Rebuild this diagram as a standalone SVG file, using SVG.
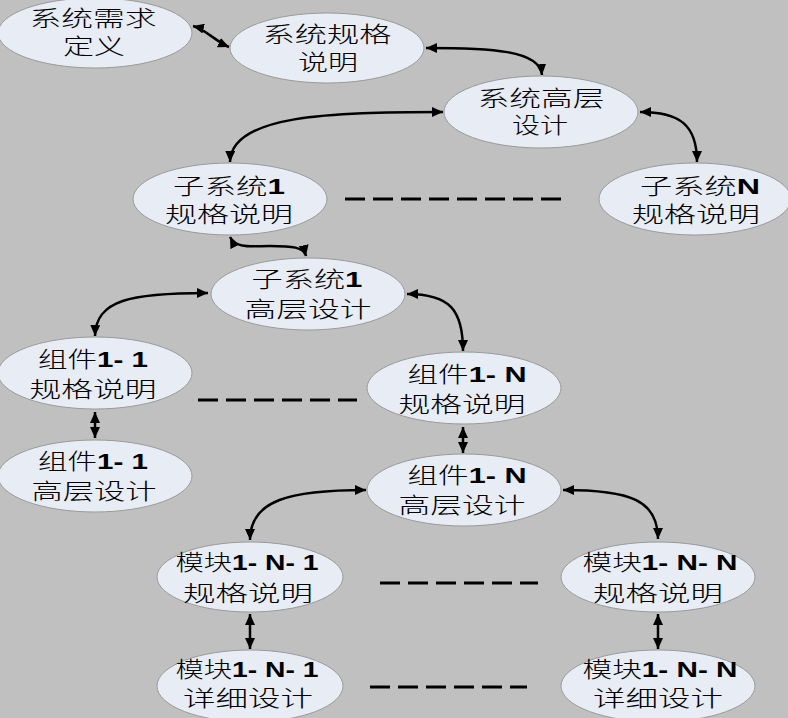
<svg xmlns="http://www.w3.org/2000/svg" width="788" height="718" viewBox="0 0 788 718">
<style>
.bg{fill:#c0c0c0}
.node ellipse{fill:#e8ecf5;stroke:#9a9a9a;stroke-width:1}
.node text{font-family:"Noto Sans CJK SC","Liberation Sans",sans-serif;font-size:22px;font-weight:300;fill:#000;text-anchor:middle}
.node text .b{font-family:"Liberation Sans","Noto Sans CJK SC",sans-serif;font-weight:bold}
.conn path{fill:none;stroke:#000;stroke-width:2.5}
.conn path.arr{marker-start:url(#ah);marker-end:url(#ah)}
.dash line{stroke:#000;stroke-width:3;stroke-dasharray:20 8}
</style>
<defs>
<marker id="ah" markerUnits="userSpaceOnUse" markerWidth="12" markerHeight="10" refX="11" refY="5" orient="auto-start-reverse">
<path d="M0,0 L11,5 L0,10 z" fill="#000"/>
</marker>
</defs>
<rect class="bg" x="0" y="0" width="788" height="718"/>

<g id="connectors" class="conn">
<path class="arr" d="M193,26 C205,29 215,41 229,47"/>
<path class="arr" d="M426,48 C490,48 540,50 542,75"/>
<path class="arr" d="M443,112 C330,112 231,115 230,162"/>
<path class="arr" d="M640,112 C680,112 697,125 697,162"/>
<path class="arr" d="M230,237 C236,249 252,246 270,246 C292,246 304,247 306,256"/>
<path class="arr" d="M208,293 C130,293 96,300 95,336"/>
<path class="arr" d="M407,294 C450,294 463,310 463,351"/>
<path class="arr" d="M95,412 L95,438"/>
<path class="arr" d="M463,427 L463,453"/>
<path class="arr" d="M366,490 C290,490 250,500 250,540"/>
<path class="arr" d="M563,490 C630,490 658,500 658,539"/>
<path class="arr" d="M250,614 L250,649"/>
<path class="arr" d="M658,614 L658,649"/>
</g>

<g id="dashes" class="dash">
<line x1="345" y1="199" x2="563" y2="199"/>
<line x1="198" y1="400" x2="357" y2="400"/>
<line x1="380" y1="583" x2="538" y2="583"/>
<line x1="370" y1="687" x2="527" y2="687"/>
</g>

<g id="n1" class="node"><ellipse cx="95" cy="33" rx="97" ry="35"/>
<text x="93" y="26" textLength="127" lengthAdjust="spacingAndGlyphs">系统需求</text>
<text x="94" y="54" textLength="62" lengthAdjust="spacingAndGlyphs">定义</text></g>

<g id="n2" class="node"><ellipse cx="327" cy="48" rx="97" ry="35"/>
<text x="327" y="42" textLength="129" lengthAdjust="spacingAndGlyphs">系统规格</text>
<text x="328" y="70" textLength="60" lengthAdjust="spacingAndGlyphs">说明</text></g>

<g id="n3" class="node"><ellipse cx="541" cy="112" rx="97" ry="36"/>
<text x="541" y="106" textLength="127" lengthAdjust="spacingAndGlyphs">系统高层</text>
<text x="540" y="133" textLength="56" lengthAdjust="spacingAndGlyphs">设计</text></g>

<g id="n4" class="node"><ellipse cx="230" cy="199" rx="97" ry="36"/>
<text x="229" y="194" textLength="112" lengthAdjust="spacingAndGlyphs">子系统<tspan class="b">1</tspan></text>
<text x="229" y="222" textLength="128" lengthAdjust="spacingAndGlyphs">规格说明</text></g>

<g id="n5" class="node"><ellipse cx="695" cy="199" rx="96" ry="36"/>
<text x="700" y="194" textLength="120" lengthAdjust="spacingAndGlyphs">子系统<tspan class="b">N</tspan></text>
<text x="696" y="222" textLength="128" lengthAdjust="spacingAndGlyphs">规格说明</text></g>

<g id="n6" class="node"><ellipse cx="308" cy="294" rx="97" ry="36"/>
<text x="307" y="287" textLength="111" lengthAdjust="spacingAndGlyphs">子系统<tspan class="b">1</tspan></text>
<text x="308" y="317" textLength="127" lengthAdjust="spacingAndGlyphs">高层设计</text></g>

<g id="n7" class="node"><ellipse cx="95" cy="373" rx="97" ry="36"/>
<text x="93" y="367" textLength="110" lengthAdjust="spacingAndGlyphs">组件<tspan class="b">1- 1</tspan></text>
<text x="93" y="397" textLength="127" lengthAdjust="spacingAndGlyphs">规格说明</text></g>

<g id="n8" class="node"><ellipse cx="95" cy="476" rx="97" ry="36"/>
<text x="93" y="469" textLength="110" lengthAdjust="spacingAndGlyphs">组件<tspan class="b">1- 1</tspan></text>
<text x="94" y="499" textLength="125" lengthAdjust="spacingAndGlyphs">高层设计</text></g>

<g id="n9" class="node"><ellipse cx="464" cy="388" rx="97" ry="36"/>
<text x="467" y="382" textLength="119" lengthAdjust="spacingAndGlyphs">组件<tspan class="b">1- N</tspan></text>
<text x="462" y="412" textLength="127" lengthAdjust="spacingAndGlyphs">规格说明</text></g>

<g id="n10" class="node"><ellipse cx="464" cy="490" rx="97" ry="36"/>
<text x="467" y="483" textLength="119" lengthAdjust="spacingAndGlyphs">组件<tspan class="b">1- N</tspan></text>
<text x="462" y="513" textLength="127" lengthAdjust="spacingAndGlyphs">高层设计</text></g>

<g id="n11" class="node"><ellipse cx="250" cy="577" rx="93" ry="35"/>
<text x="247" y="570" textLength="143" lengthAdjust="spacingAndGlyphs">模块<tspan class="b">1- N- 1</tspan></text>
<text x="248" y="601" textLength="130" lengthAdjust="spacingAndGlyphs">规格说明</text></g>

<g id="n12" class="node"><ellipse cx="658" cy="577" rx="97" ry="35"/>
<text x="660" y="570" textLength="155" lengthAdjust="spacingAndGlyphs">模块<tspan class="b">1- N- N</tspan></text>
<text x="658" y="601" textLength="130" lengthAdjust="spacingAndGlyphs">规格说明</text></g>

<g id="n13" class="node"><ellipse cx="250" cy="686" rx="93" ry="36"/>
<text x="247" y="677" textLength="143" lengthAdjust="spacingAndGlyphs">模块<tspan class="b">1- N- 1</tspan></text>
<text x="248" y="706" textLength="130" lengthAdjust="spacingAndGlyphs">详细设计</text></g>

<g id="n14" class="node"><ellipse cx="658" cy="686" rx="97" ry="36"/>
<text x="660" y="677" textLength="155" lengthAdjust="spacingAndGlyphs">模块<tspan class="b">1- N- N</tspan></text>
<text x="658" y="706" textLength="130" lengthAdjust="spacingAndGlyphs">详细设计</text></g>
</svg>
